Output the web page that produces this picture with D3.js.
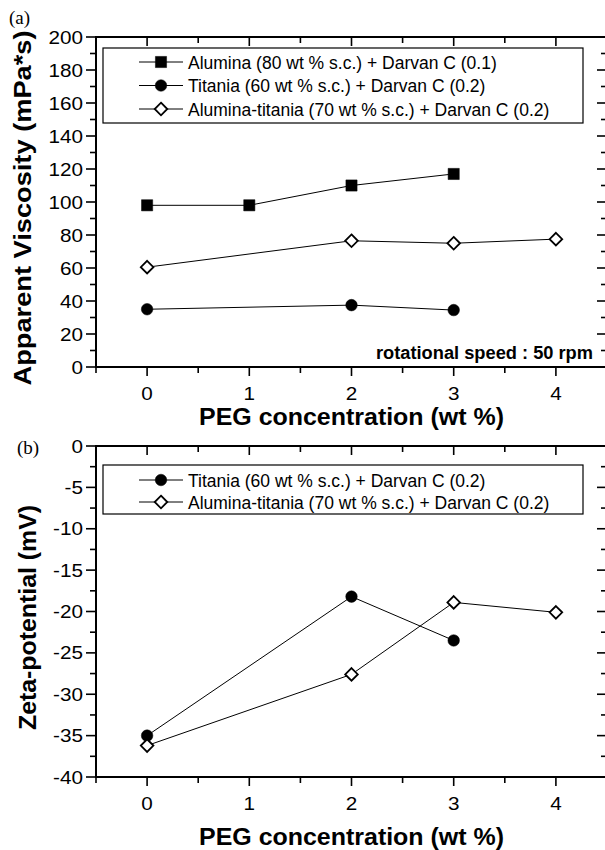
<!DOCTYPE html>
<html>
<head>
<meta charset="utf-8">
<script src="https://cdn.jsdelivr.net/npm/d3@7"></script>
<style>
  html, body { margin: 0; padding: 0; background: #fff; }
  svg { display: block; }
  text { font-family: "Liberation Sans", Arial, sans-serif; fill: #000; }
</style>
</head>
<body>
<svg id="chart" width="605" height="850"></svg>
<script>
// PEG concentration (wt %) for each series
const aluminaX = [0, 1, 2, 3];
const aluminaVisc = [98, 98, 110, 117];
const titaniaX = [0, 2, 3];
const titaniaVisc = [35, 37.5, 34.5];
const titaniaZeta = [-35, -18.2, -23.5];
const atX = [0, 2, 3, 4];
const atVisc = [60.5, 76.5, 75, 77.5];
const atZeta = [-36.2, -27.6, -18.9, -20.1];

const xTicks = [0, 1, 2, 3, 4];
const viscTicks = [0, 20, 40, 60, 80, 100, 120, 140, 160, 180, 200];
const zetaTicks = [-40, -35, -30, -25, -20, -15, -10, -5, 0];

const labelAlumina = "Alumina (80 wt % s.c.) + Darvan C (0.1)";
const labelTitania = "Titania (60 wt % s.c.) + Darvan C (0.2)";
const labelAT = "Alumina-titania (70 wt % s.c.) + Darvan C (0.2)";

const svg = d3.select("#chart");

const left = 96, right = 607;
const x = d3.scaleLinear().domain([-0.5, 4.5]).range([left, right]);

// tick numerals are drawn slightly wide
const tickFont = 18, tickStretch = 1.15;

function symbolPath(kind) {
  if (kind === "square") return d3.symbol().type(d3.symbolSquare).size(125)();
  if (kind === "circle") return d3.symbol().type(d3.symbolCircle).size(105)();
  return "M0,-6.3L6.3,0L0,6.3L-6.3,0Z";
}
function styleMarker(sel, kind) {
  sel.attr("d", symbolPath(kind))
    .attr("fill", kind === "diamond" ? "#fff" : "#000")
    .attr("stroke", "#000")
    .attr("stroke-width", kind === "diamond" ? 1.8 : 0.5);
}

function panel(opts) {
  const { top, bottom, yDomain, yTicks, yMinorStep, series, yTitle, yTitleX, yTitleLen,
          xTitleOffset, legendBox, tag, tagPos } = opts;
  const y = d3.scaleLinear().domain(yDomain).range([bottom, top]);
  const g = svg.append("g");

  const xMinor = d3.range(-0.5, 4.51, 0.5);
  const yMinor = d3.range(yDomain[0], yDomain[1] + 1e-9, yMinorStep);

  // bottom axis ticks point outward, top axis ticks point inward
  xMinor.forEach(v => {
    const major = Number.isInteger(v);
    g.append("line").attr("x1", x(v)).attr("x2", x(v))
      .attr("y1", bottom).attr("y2", bottom + (major ? 9 : 6))
      .attr("stroke", "#000").attr("stroke-width", 1.6);
    g.append("line").attr("x1", x(v)).attr("x2", x(v))
      .attr("y1", top).attr("y2", top + (major ? 9 : 6))
      .attr("stroke", "#000").attr("stroke-width", 1.6);
  });
  g.selectAll(".xl").data(xTicks).join("text")
    .attr("transform", d => `translate(${x(d)},${bottom + 33}) scale(${tickStretch},1)`)
    .attr("text-anchor", "middle").attr("font-size", tickFont).text(d => d);

  // left axis ticks point outward, right axis ticks point inward
  yMinor.forEach(v => {
    const major = yTicks.some(t => Math.abs(t - v) < 1e-9);
    g.append("line").attr("x1", left).attr("x2", left - (major ? 10 : 6))
      .attr("y1", y(v)).attr("y2", y(v))
      .attr("stroke", "#000").attr("stroke-width", 1.6);
    g.append("line").attr("x1", right).attr("x2", right - (major ? 10 : 6))
      .attr("y1", y(v)).attr("y2", y(v))
      .attr("stroke", "#000").attr("stroke-width", 1.6);
  });
  g.selectAll(".yl").data(yTicks).join("text")
    .attr("transform", d => `translate(${left - 13},${y(d) + 6.5}) scale(${tickStretch},1)`)
    .attr("text-anchor", "end").attr("font-size", tickFont).text(d => d);

  // frame
  g.append("rect").attr("x", left).attr("y", top)
    .attr("width", right - left).attr("height", bottom - top)
    .attr("fill", "none").attr("stroke", "#000").attr("stroke-width", 2);

  // series lines, then markers on top
  const line = d3.line().x(d => x(d[0])).y(d => y(d[1]));
  series.forEach(s => {
    const pts = s.xs.map((v, i) => [v, s.ys[i]]);
    g.append("path").attr("d", line(pts)).attr("fill", "none")
      .attr("stroke", "#000").attr("stroke-width", 1);
  });
  series.forEach(s => {
    const pts = s.xs.map((v, i) => [v, s.ys[i]]);
    g.selectAll(null).data(pts).join("path")
      .attr("transform", d => `translate(${x(d[0])},${y(d[1])})`)
      .call(sel => styleMarker(sel, s.kind));
  });

  // legend
  const lg = g.append("g");
  lg.append("rect").attr("x", legendBox.x).attr("y", legendBox.y)
    .attr("width", legendBox.w).attr("height", legendBox.h)
    .attr("fill", "#fff").attr("stroke", "#000").attr("stroke-width", 1.2);
  series.forEach((s, i) => {
    const cy = legendBox.y + legendBox.first + i * legendBox.step;
    lg.append("line").attr("x1", 139).attr("x2", 183).attr("y1", cy).attr("y2", cy)
      .attr("stroke", "#000").attr("stroke-width", 1);
    lg.append("path").attr("transform", `translate(161,${cy})`)
      .call(sel => styleMarker(sel, s.kind));
    lg.append("text").attr("x", 188).attr("y", cy + 6.5)
      .attr("font-size", 17.5).text(s.label);
  });

  // axis titles
  g.append("text")
    .attr("transform", `translate(${yTitleX},${(top + bottom) / 2 + 6}) rotate(-90)`)
    .attr("text-anchor", "middle").attr("font-size", 23).attr("font-weight", "bold")
    .attr("textLength", yTitleLen).attr("lengthAdjust", "spacingAndGlyphs")
    .text(yTitle);
  g.append("text").attr("x", x(2)).attr("y", bottom + xTitleOffset)
    .attr("text-anchor", "middle").attr("font-size", 23).attr("font-weight", "bold")
    .attr("textLength", 305).attr("lengthAdjust", "spacingAndGlyphs")
    .text("PEG concentration (wt %)");

  g.append("text").attr("x", tagPos[0]).attr("y", tagPos[1])
    .style("font-family", "'Liberation Serif', 'Times New Roman', serif")
    .attr("font-size", 19).text(tag);

  return { g, y };
}

const pa = panel({
  top: 37, bottom: 367, yDomain: [0, 200], yTicks: viscTicks, yMinorStep: 10,
  series: [
    { xs: aluminaX, ys: aluminaVisc, kind: "square", label: labelAlumina },
    { xs: titaniaX, ys: titaniaVisc, kind: "circle", label: labelTitania },
    { xs: atX, ys: atVisc, kind: "diamond", label: labelAT }
  ],
  yTitle: "Apparent Viscosity (mPa*s)", yTitleX: 31, yTitleLen: 355, xTitleOffset: 58,
  legendBox: { x: 103, y: 48, w: 480, h: 75, first: 14, step: 23.5 },
  tag: "(a)", tagPos: [9, 24]
});
pa.g.append("text").attr("x", 593).attr("y", 359).attr("text-anchor", "end")
  .attr("font-size", 17.5).attr("font-weight", "bold")
  .attr("textLength", 217).attr("lengthAdjust", "spacingAndGlyphs")
  .text("rotational speed : 50 rpm");

panel({
  top: 446, bottom: 777, yDomain: [-40, 0], yTicks: zetaTicks, yMinorStep: 2.5,
  series: [
    { xs: titaniaX, ys: titaniaZeta, kind: "circle", label: labelTitania },
    { xs: atX, ys: atZeta, kind: "diamond", label: labelAT }
  ],
  yTitle: "Zeta-potential (mV)", yTitleX: 36, yTitleLen: 225, xTitleOffset: 68,
  legendBox: { x: 103, y: 465, w: 480, h: 49, first: 15, step: 22 },
  tag: "(b)", tagPos: [17, 454]
});
</script>
</body>
</html>
